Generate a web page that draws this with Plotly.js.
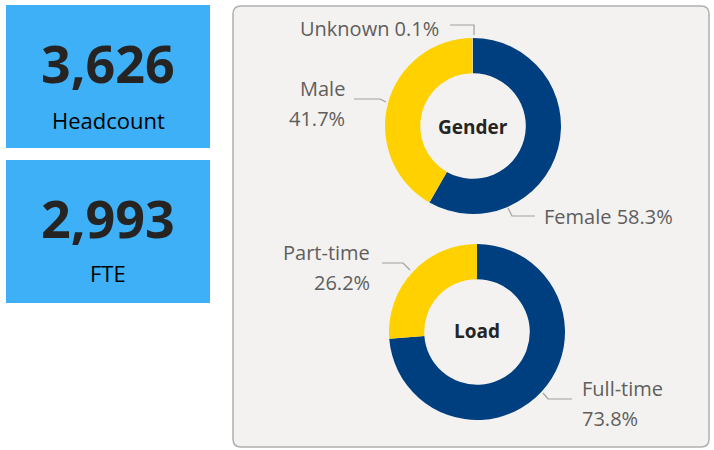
<!DOCTYPE html>
<html>
<head>
<meta charset="utf-8">
<script src="https://cdn.plot.ly/plotly-3.0.1.min.js"></script>
<style>html,body{margin:0;padding:0;background:#fff;}#chart{width:714px;height:450px;}</style>
</head>
<body>
<div id="chart"></div>
<script>
// ---- data ----
const kpiValues = [3626, 2993];
const kpiLabels = ["Headcount", "FTE"];

const genderLabels = ["Female", "Male", "Unknown"];
const genderValues = [58.3, 41.7, 0.1];
const genderTitle = "Gender";

const loadLabels = ["Full-time", "Part-time"];
const loadValues = [73.8, 26.2];
const loadTitle = "Load";

// ---- styling ----
const W = 714, H = 450;
const NAVY = "#003F7F", YELLOW = "#FFD100", GREY = "#C8C6C4";
const LABEL_COLOR = "#605E5C", LINE_COLOR = "#A19F9D";
const FONT = "Open Sans";

function dom(cx, cy, r) {
  return { x: [(cx - r) / W, (cx + r) / W], y: [1 - (cy + r) / H, 1 - (cy - r) / H] };
}
const pct = v => v.toFixed(1) + "%";

const traces = [
  {
    type: "pie", values: genderValues, labels: genderLabels, hole: 0.6,
    sort: false, direction: "clockwise", rotation: 0,
    marker: { colors: [NAVY, YELLOW, GREY], line: { width: 0 } },
    textinfo: "none", hoverinfo: "label+percent", showlegend: false,
    domain: dom(473, 126, 88)
  },
  {
    type: "pie", values: loadValues, labels: loadLabels, hole: 0.6,
    sort: false, direction: "clockwise", rotation: 0,
    marker: { colors: [NAVY, YELLOW], line: { width: 0 } },
    textinfo: "none", hoverinfo: "label+percent", showlegend: false,
    domain: dom(477, 332, 88)
  }
];

const shapes = [
  // KPI boxes
  { type: "rect", xref: "x", yref: "y", x0: 6, x1: 210, y0: 5, y1: 148, fillcolor: "#3DB0F7", line: { width: 0 }, layer: "below" },
  { type: "rect", xref: "x", yref: "y", x0: 6, x1: 210, y0: 160, y1: 303, fillcolor: "#3DB0F7", line: { width: 0 }, layer: "below" },
  // panel with rounded corners
  { type: "path", xref: "x", yref: "y", layer: "below",
    path: "M 241 6 L 701 6 Q 709 6 709 14 L 709 439 Q 709 447 701 447 L 241 447 Q 233 447 233 439 L 233 14 Q 233 6 241 6 Z",
    fillcolor: "#F3F2F1", line: { color: "#B3B0AD", width: 1.5 } },
  // leader lines
  { type: "path", xref: "x", yref: "y", path: "M 450 25 L 474 25 L 474 35", line: { color: LINE_COLOR, width: 1.2 } },
  { type: "path", xref: "x", yref: "y", path: "M 354 99 L 380 99 L 386 102", line: { color: LINE_COLOR, width: 1.2 } },
  { type: "path", xref: "x", yref: "y", path: "M 508 208 L 512 216 L 535 216", line: { color: LINE_COLOR, width: 1.2 } },
  { type: "path", xref: "x", yref: "y", path: "M 382 263 L 403 263 L 410 270", line: { color: LINE_COLOR, width: 1.2 } },
  { type: "path", xref: "x", yref: "y", path: "M 543 393 L 548 399 L 572 399", line: { color: LINE_COLOR, width: 1.2 } }
];

const lab = (x, y, text, anchor) => ({
  xref: "x", yref: "y", x: x, y: y, text: text, showarrow: false,
  xanchor: anchor, yanchor: "middle", align: anchor,
  font: { family: FONT, size: 20, color: LABEL_COLOR }
});

const annotations = [
  // KPIs
  { xref: "x", yref: "y", x: 108, y: 62, text: "<b>" + kpiValues[0].toLocaleString("en-US") + "</b>", showarrow: false,
    font: { family: FONT, size: 52, color: "#252423" } },
  { xref: "x", yref: "y", x: 108, y: 120, text: kpiLabels[0], showarrow: false,
    font: { family: FONT, size: 22, color: "#000000" } },
  { xref: "x", yref: "y", x: 108, y: 217, text: "<b>" + kpiValues[1].toLocaleString("en-US") + "</b>", showarrow: false,
    font: { family: FONT, size: 52, color: "#252423" } },
  { xref: "x", yref: "y", x: 108, y: 273, text: kpiLabels[1], showarrow: false,
    font: { family: FONT, size: 22, color: "#000000" } },
  // donut centers
  { xref: "x", yref: "y", x: 473, y: 127, text: "<b>" + genderTitle + "</b>", showarrow: false,
    font: { family: FONT, size: 19, color: "#252423" } },
  { xref: "x", yref: "y", x: 477, y: 331, text: "<b>" + loadTitle + "</b>", showarrow: false,
    font: { family: FONT, size: 19, color: "#252423" } },
  // slice labels
  lab(441, 28, genderLabels[2] + " " + pct(genderValues[2]), "right"),
  lab(347, 88, genderLabels[1], "right"),
  lab(347, 118, pct(genderValues[1]), "right"),
  lab(542, 216, genderLabels[0] + " " + pct(genderValues[0]), "left"),
  lab(372, 252, loadLabels[1], "right"),
  lab(372, 282, pct(loadValues[1]), "right"),
  lab(580, 388, loadLabels[0], "left"),
  lab(580, 418, pct(loadValues[0]), "left")
];

const layout = {
  width: W, height: H,
  margin: { l: 0, r: 0, t: 0, b: 0 },
  paper_bgcolor: "#ffffff", plot_bgcolor: "rgba(0,0,0,0)",
  xaxis: { range: [0, W], visible: false, fixedrange: true },
  yaxis: { range: [H, 0], visible: false, fixedrange: true },
  shapes: shapes, annotations: annotations, showlegend: false,
  font: { family: FONT }
};

Plotly.newPlot("chart", traces, layout, { displayModeBar: false, staticPlot: true });
</script>
</body>
</html>
